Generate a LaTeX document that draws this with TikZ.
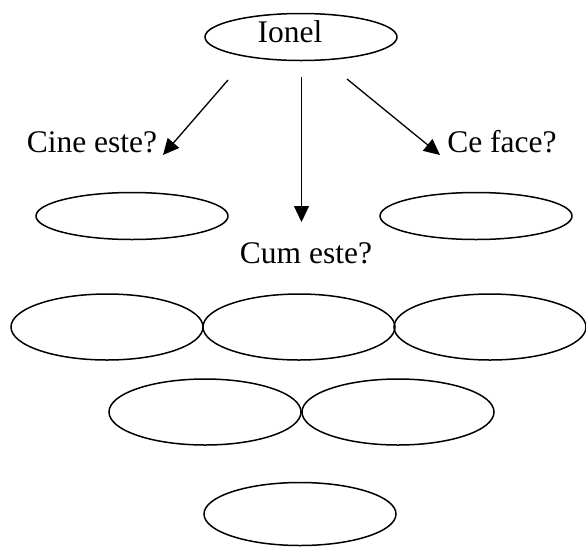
\documentclass[tikz,border=0pt]{standalone}
\usepackage{fontspec}
\setmainfont{Liberation Serif}
\usetikzlibrary{arrows.meta,shapes.geometric}

\begin{document}
\begin{tikzpicture}[x=1pt, y=-1pt, >={Triangle[length=16pt,width=15pt]},
  oval/.style={draw, ellipse, line width=1.5pt, inner sep=0pt, minimum width=192pt, minimum height=47pt},
  bigoval/.style={oval, minimum height=66pt},
  word/.style={anchor=base, inner sep=0pt, font=\fontsize{31.5}{36}\selectfont}]
  \useasboundingbox (0,0) rectangle (586,547);
  \node[oval] (ionel) at (301,37) {};
  \node[word] (ionelname) at (290,42) {Ionel};
  \node[oval] (cine) at (132,216) {};
  \node[oval] (face) at (476,216) {};
  \node[bigoval] (r1) at (107,327) {};
  \node[bigoval] (r2) at (299,327) {};
  \node[bigoval] (r3) at (490,327) {};
  \node[bigoval] (s1) at (205,412) {};
  \node[bigoval] (s2) at (398,412) {};
  \node[bigoval, minimum height=63pt] (t1) at (300,514) {};
  \node[word] (qcine) at (92,152) {Cine este?};
  \node[word] (qface) at (502,152) {Ce face?};
  \node[word] (qcum) at (306,263) {Cum este?};
  \coordinate (a1) at (228,80); \coordinate (b1) at (163,155);
  \coordinate (a2) at (301.5,77); \coordinate (b2) at (301.5,222);
  \coordinate (a3) at (347,79); \coordinate (b3) at (440,155);
  \draw[->, line width=1.3pt] (a1) -- (b1);
  \draw[->, line width=1.3pt] (a2) -- (b2);
  \draw[->, line width=1.3pt] (a3) -- (b3);
\end{tikzpicture}
\end{document}
